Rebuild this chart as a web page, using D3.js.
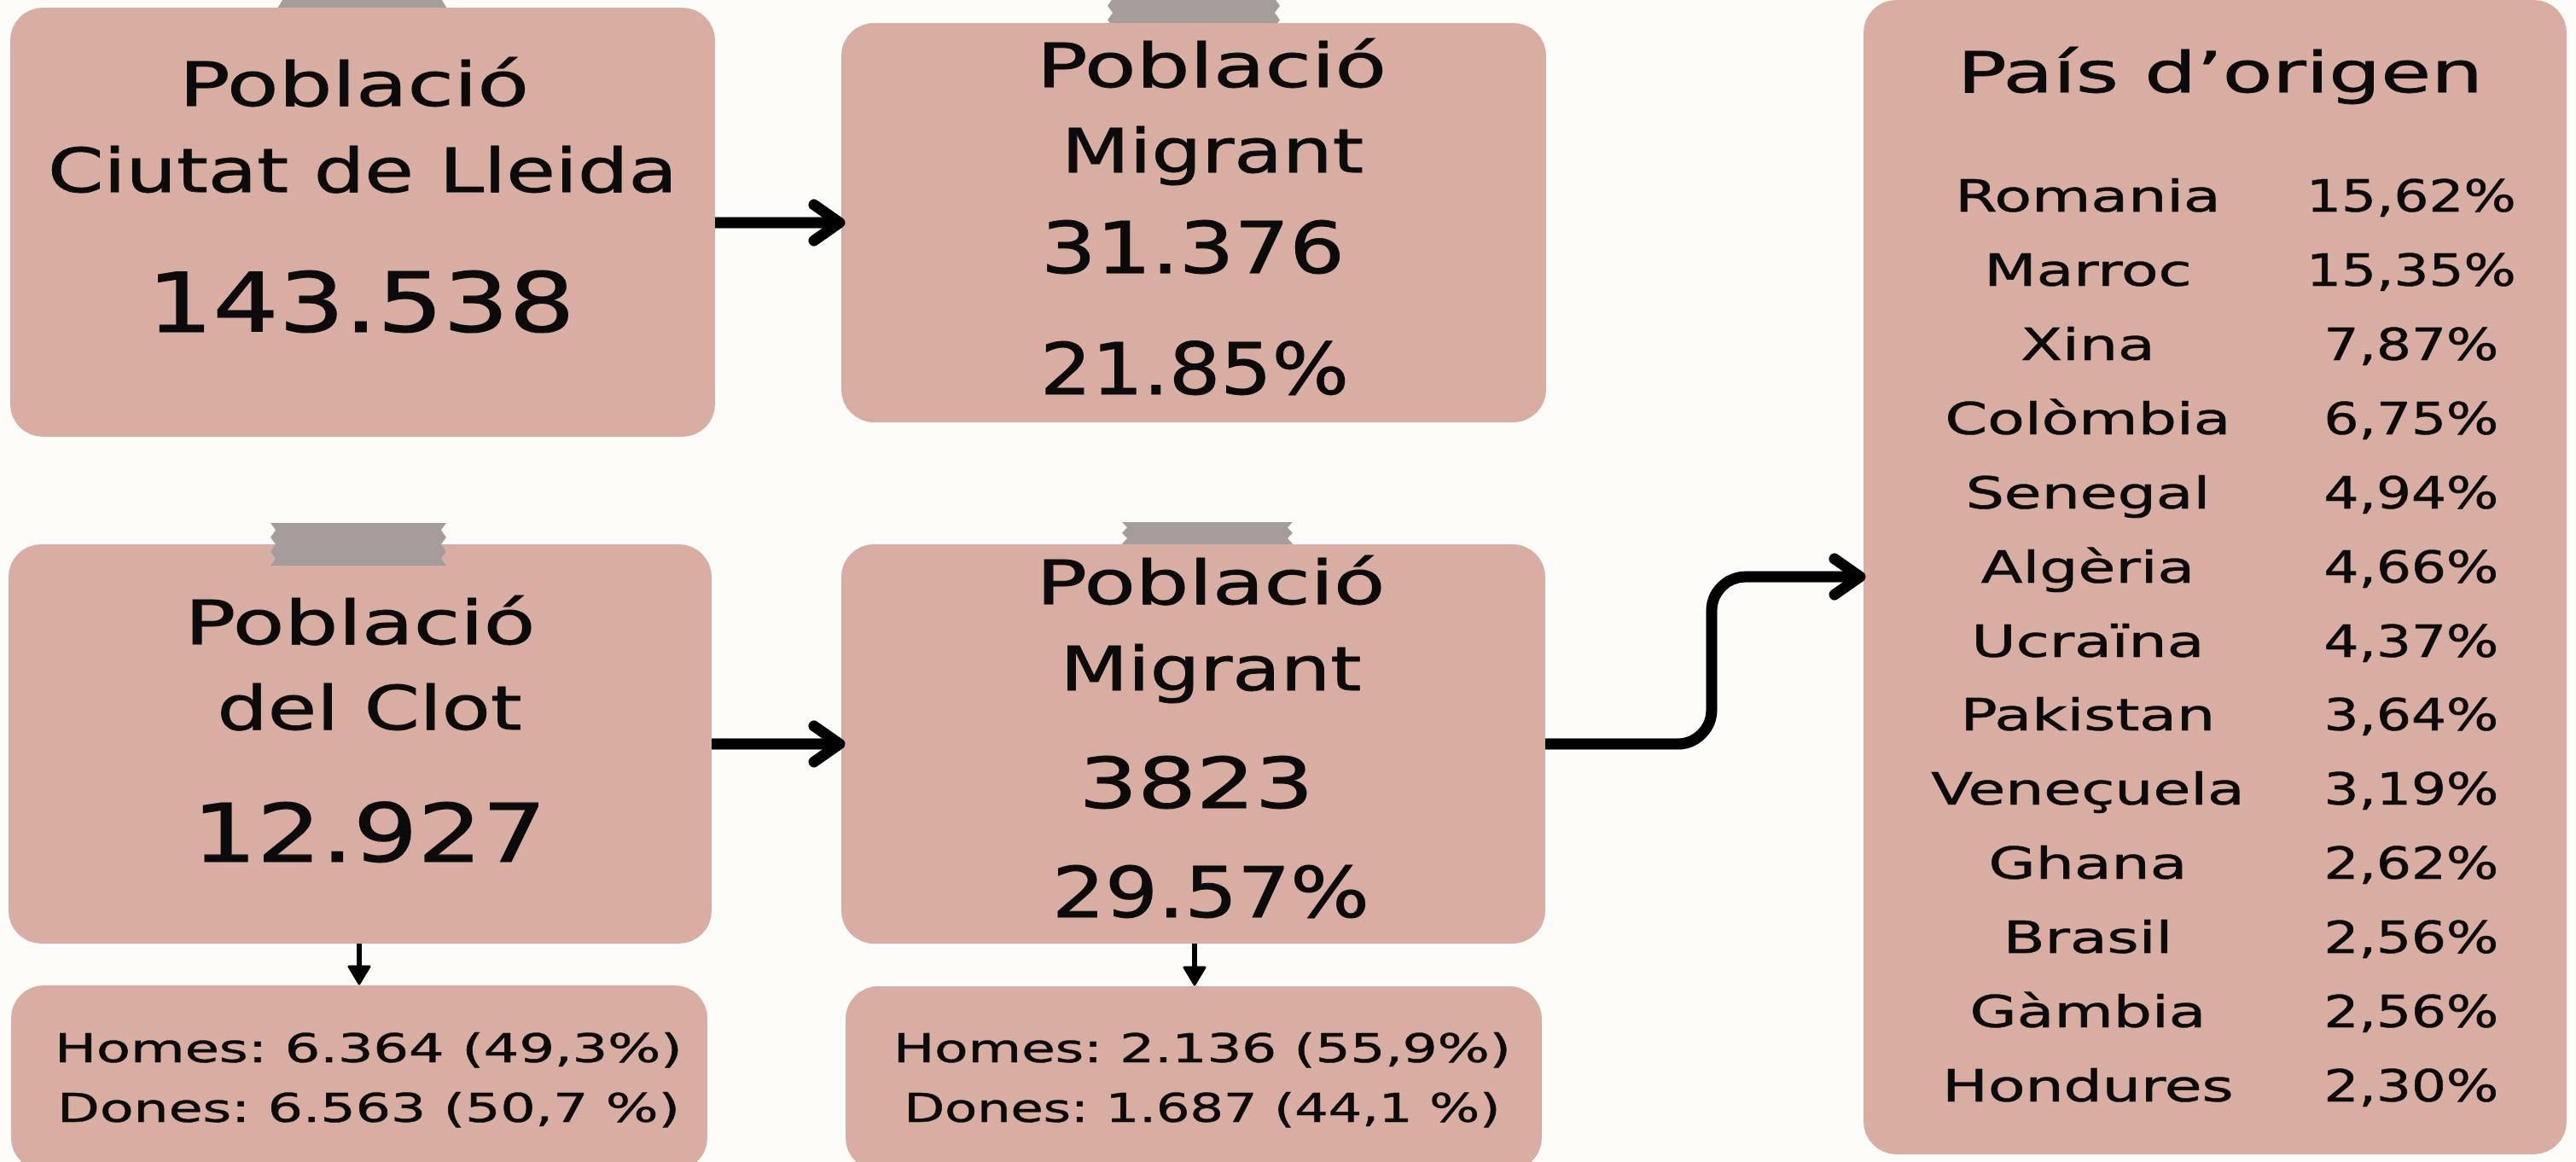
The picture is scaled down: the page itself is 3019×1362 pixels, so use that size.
<!DOCTYPE html>
<html>
<head>
<meta charset="utf-8">
<script src="https://cdn.jsdelivr.net/npm/d3@7"></script>
<style>
  body { margin: 0; background: #fdfcf8; }
  text { font-family: "DejaVu Sans", sans-serif; fill: #0b0b0b; }
</style>
</head>
<body>
<div id="chart"></div>
<script>

// data read from the infographic
var cityTotal = 143538;
var cityMigrant = 31376;
var cityMigrantPct = 21.85;
var clotTotal = 12927;
var clotMigrant = 3823;
var clotMigrantPct = 29.57;

var sexes = ["Homes", "Dones"];
var clotSexCount = [6364, 6563];
var clotSexPct = [49.3, 50.7];
var migrantSexCount = [2136, 1687];
var migrantSexPct = [55.9, 44.1];
var pctGap = ["", " "];   // the original writes "50,7 %" with a space

var countries = ["Romania", "Marroc", "Xina", "Colòmbia", "Senegal", "Algèria", "Ucraïna",
                 "Pakistan", "Veneçuela", "Ghana", "Brasil", "Gàmbia", "Hondures"];
var shares = [15.62, 15.35, 7.87, 6.75, 4.94, 4.66, 4.37, 3.64, 3.19, 2.62, 2.56, 2.56, 2.30];

var W = 3019, H = 1362;
var boxFill = "#d8ada2";
var tapeFill = "#a59d9b";

var ca = d3.formatLocale({decimal: ",", thousands: ".", grouping: [3], currency: ["", "€"]});
var fmtInt = ca.format(",d");
var fmt1 = ca.format(".1f");
var fmt2 = ca.format(".2f");

var svg = d3.select('#chart').append('svg')
  .attr('width', W)
  .attr('height', H);

svg.append('rect')
  .attr('width', W).attr('height', H)
  .attr('fill', '#fdfcf8');

// tape strip with torn left / right edges
var tapePath = function(x0, y0, x1, y1) {
  var n = 6, d = 6;
  var p = d3.path();
  p.moveTo(x0, y0);
  p.lineTo(x1, y0);
  for (var i = 1; i <= n; i++) {
    p.lineTo(x1 - (i % 2 ? d : 0), y0 + (y1 - y0) * i / n);
  }
  p.lineTo(x0, y1);
  for (var j = n - 1; j >= 0; j--) {
    p.lineTo(x0 + (j % 2 ? d : 0), y0 + (y1 - y0) * j / n);
  }
  p.closePath();
  return p.toString();
};

var tape = function(x0, y0, x1, y1) {
  svg.append('path')
    .attr('d', tapePath(x0, y0, x1, y1))
    .attr('fill', tapeFill);
};

var box = function(x0, y0, x1, y1) {
  svg.append('rect')
    .attr('x', x0).attr('y', y0)
    .attr('width', x1 - x0).attr('height', y1 - y0)
    .attr('rx', 38).attr('ry', 38)
    .attr('fill', boxFill);
};

// the original face is much wider than DejaVu, so glyphs get stretched sideways
// width < 10 means "stretch factor", otherwise the target width in px
var label = function(str, cx, y, size, width) {
  var t = svg.append('text')
    .attr('font-size', size)
    .attr('stroke', '#0b0b0b')
    .attr('stroke-width', size * 0.012)
    .text(str);
  var w0 = t.node().getComputedTextLength();
  if (width < 10) width = w0 * width;
  t.attr('transform', 'translate(' + (cx - width / 2) + ',' + y + ') scale(' + (width / w0) + ',1)');
  return t;
};

// tapes that sit behind the cards
tape(325, -30, 524, 30);
tape(1298, -10, 1500, 40);
tape(1315, 612, 1515, 650);

box(12, 9, 838, 512);
box(986, 27, 1812, 495);
box(10, 638, 834, 1106);
box(986, 638, 1811, 1106);
box(13, 1155, 829, 1372);
box(991, 1156, 1807, 1372);
box(2184, 0, 3008, 1353);

// tape on top of the Clot card
tape(317, 613, 523, 663);

// arrows
var arrowG = svg.append('g')
  .attr('fill', 'none')
  .attr('stroke', '#000')
  .attr('stroke-linecap', 'round')
  .attr('stroke-linejoin', 'round');

var bigArrow = function(x0, x1, y) {
  arrowG.append('path')
    .attr('d', 'M' + x0 + ',' + y + 'H' + (x1 - 4))
    .attr('stroke-width', 13).attr('stroke-linecap', 'butt');
  arrowG.append('path')
    .attr('d', 'M' + (x1 - 32) + ',' + (y - 21) + 'L' + (x1 - 2) + ',' + y + 'L' + (x1 - 32) + ',' + (y + 21))
    .attr('stroke-width', 13);
};
bigArrow(838, 986, 261);
bigArrow(834, 986, 872);

// bent arrow to the country card
arrowG.append('path')
  .attr('d', 'M1811,872 H1966 A40,40 0 0 0 2006,832 V716 A40,40 0 0 1 2046,676 H2178')
  .attr('stroke-width', 13).attr('stroke-linecap', 'butt');
arrowG.append('path')
  .attr('d', 'M2150,655 L2180,676 L2150,697')
  .attr('stroke-width', 13);

var smallArrow = function(x, y0, y1) {
  arrowG.append('path')
    .attr('d', 'M' + x + ',' + y0 + 'V' + (y1 - 18))
    .attr('stroke-width', 6).attr('stroke-linecap', 'butt');
  svg.append('path')
    .attr('d', 'M' + (x - 12) + ',' + (y1 - 22) + 'L' + (x + 12) + ',' + (y1 - 22) + 'L' + x + ',' + (y1 - 2) + 'Z')
    .attr('fill', '#000').attr('stroke', '#000')
    .attr('stroke-width', 3).attr('stroke-linejoin', 'round');
};
smallArrow(421, 1106, 1155);
smallArrow(1400, 1106, 1156);

// card: Lleida city
label("Població", 415, 124, 71, 410);
label("Ciutat de Lleida", 425, 225, 71, 738);
label(fmtInt(cityTotal), 423, 389, 96, 501);

// card: migrants in Lleida
label("Població", 1420, 102, 71, 410);
label("Migrant", 1421, 202, 71, 354);
label(fmtInt(cityMigrant), 1398, 320, 83, 356);
label(d3.format(".2f")(cityMigrantPct) + "%", 1400, 462, 83, 362);

// card: el Clot
label("Població", 422, 755, 71, 411);
label("del Clot", 433, 855, 71, 357);
label(fmtInt(clotTotal), 433, 1010, 95, 415);

// card: migrants in el Clot
label("Població", 1419, 708, 71, 409);
label("Migrant", 1419, 809, 71, 353);
label(d3.format("d")(clotMigrant), 1402, 947, 81, 275);
label(d3.format(".2f")(clotMigrantPct) + "%", 1419, 1075, 82, 372);

// sex split cards
var sexRows = [1245, 1315];
var clotW = [736, 730], migW = [724, 699];
sexes.forEach(function(s, i) {
  label(s + ": " + fmtInt(clotSexCount[i]) + " (" + fmt1(clotSexPct[i]) + pctGap[i] + "%)",
        432, sexRows[i], 47, clotW[i]);
  label(s + ": " + fmtInt(migrantSexCount[i]) + " (" + fmt1(migrantSexPct[i]) + pctGap[i] + "%)",
        1409, sexRows[i], 47, migW[i]);
});

// card: country of origin
label("País d’origen", 2602, 108, 66, 616);

var y = d3.scalePoint()
  .domain(countries)
  .range([248, 1291]);

countries.forEach(function(c, i) {
  label(c, 2447, y(c), 52, 1.37);
  label(fmt2(shares[i]) + "%", 2826, y(c), 52, 1.24);
});

</script>
</body>
</html>
